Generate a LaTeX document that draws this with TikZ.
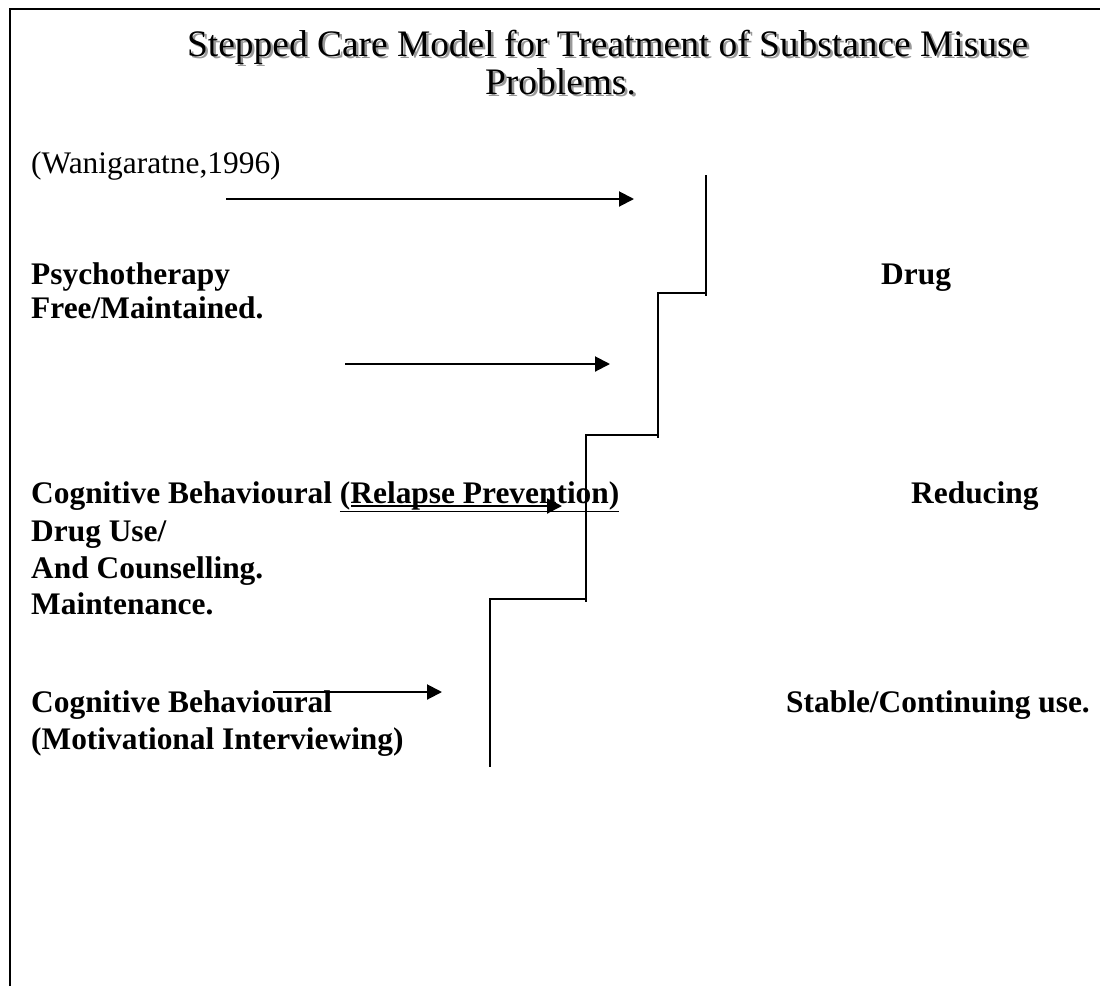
\documentclass[tikz,border=0pt]{standalone}
\usepackage{fontspec}
\setmainfont{Liberation Serif}
\usetikzlibrary{arrows.meta}
\begin{document}
\begin{tikzpicture}[x=1pt,y=-1pt,
  line/.style={line width=2pt,black},
  arr/.style={line width=2pt,-{Triangle[length=15pt,width=15pt]}},
  ttl/.style={inner sep=0pt,anchor=base west,font=\fontsize{37.4}{44}\selectfont},
  shd/.style={ttl,text=black!40},
  body/.style={inner sep=0pt,anchor=base west,font=\fontsize{31.4}{36}\selectfont},
  bbody/.style={body,font=\fontsize{31.4}{36}\selectfont\bfseries}]
\useasboundingbox[fill=white] (0,0) rectangle (1101,986);
% frame
\coordinate (ftl) at (10,9);
\coordinate (ftr) at (1100,9);
\coordinate (fbl) at (10,986);
\draw[line] (fbl) -- (ftl) -- (ftr);
% title with shadow
\node[shd] (t1s) at (189.5,58) {Stepped Care Model for Treatment of Substance Misuse};
\node[shd] (t2s) at (487.5,96) {Problems.};
\node[ttl] (t1) at (187,56) {Stepped Care Model for Treatment of Substance Misuse};
\node[ttl] (t2) at (485,94) {Problems.};
% texts
\node[body] (ref) at (31,173) {(Wanigaratne,1996)};
\node[bbody] (psy) at (31,284) {Psychotherapy};
\node[bbody] (drug) at (881,284) {Drug};
\node[bbody] (free) at (31,318) {Free/Maintained.};
\node[bbody] (cb1) at (31,503) {Cognitive Behavioural \underline{(Relapse Prevention)}};
\node[bbody] (red) at (911,503) {Reducing};
\node[bbody] (du) at (31,541) {Drug Use/};
\node[bbody] (ac) at (31,578) {And Counselling.};
\node[bbody] (mt) at (31,614) {Maintenance.};
\node[bbody] (cb2) at (31,712) {Cognitive Behavioural};
\node[bbody] (st) at (786,712) {Stable/Continuing use.};
\node[bbody] (mi) at (31,749) {(Motivational Interviewing)};
% arrows
\coordinate (a1s) at (226,199); \coordinate (a1e) at (634,199);
\coordinate (a2s) at (345,364); \coordinate (a2e) at (610,364);
\coordinate (a3s) at (351,506); \coordinate (a3e) at (562,506);
\coordinate (a4s) at (273,692); \coordinate (a4e) at (442,692);
\draw[arr] (a1s) -- (a1e);
\draw[arr] (a2s) -- (a2e);
\draw[arr] (a3s) -- (a3e);
\draw[arr] (a4s) -- (a4e);
% staircase
\coordinate (s1t) at (706,175); \coordinate (s1b) at (706,296);
\coordinate (h1r) at (706,293); \coordinate (h1l) at (657,293);
\coordinate (s2t) at (658,292); \coordinate (s2b) at (658,438);
\coordinate (h2r) at (658,435); \coordinate (h2l) at (585,435);
\coordinate (s3t) at (586,434); \coordinate (s3b) at (586,602);
\coordinate (h3r) at (586,599); \coordinate (h3l) at (489,599);
\coordinate (s4t) at (490,598); \coordinate (s4b) at (490,767);
\draw[line] (s1t) -- (s1b);
\draw[line] (h1l) -- (h1r);
\draw[line] (s2t) -- (s2b);
\draw[line] (h2l) -- (h2r);
\draw[line] (s3t) -- (s3b);
\draw[line] (h3l) -- (h3r);
\draw[line] (s4t) -- (s4b);
\end{tikzpicture}
\end{document}
